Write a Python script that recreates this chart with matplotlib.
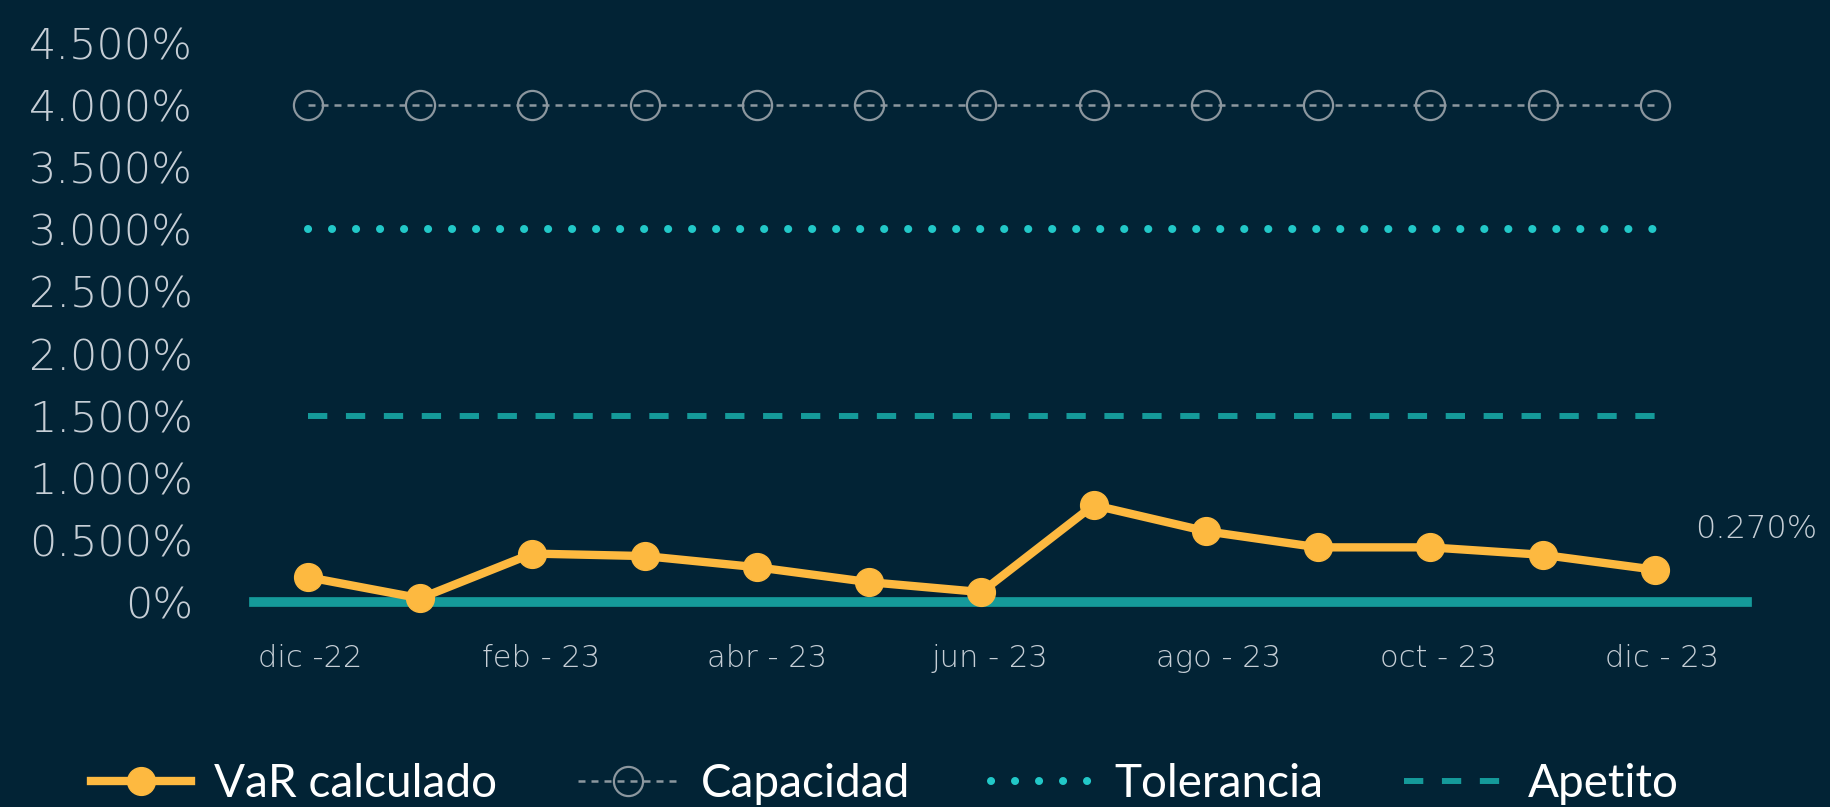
import numpy as np
import matplotlib
matplotlib.use('Agg')
from matplotlib import pyplot as plt
import matplotlib.transforms as mtransforms

# data
months = ['dic -22', 'ene - 23', 'feb - 23', 'mar - 23', 'abr - 23', 'may - 23', 'jun - 23',
          'jul - 23', 'ago - 23', 'sep - 23', 'oct - 23', 'nov - 23', 'dic - 23']
var_calc = [0.20, 0.03, 0.39, 0.37, 0.28, 0.16, 0.08, 0.78, 0.57, 0.44, 0.44, 0.38, 0.26]
capacidad = [4.0] * 13
tolerancia = [3.0] * 13
apetito = [1.5] * 13
y_ticks = [0, 0.5, 1.0, 1.5, 2.0, 2.5, 3.0, 3.5, 4.0, 4.5]
y_labels = ['0%', '0.500%', '1.000%', '1.500%', '2.000%', '2.500%', '3.000%', '3.500%', '4.000%', '4.500%']
last_label = '0.270%'

bg = '#022335'
orange = '#fdb940'
gray = '#8c979f'
cyan = '#22c8c8'
teal = '#159a9a'
label_col = '#c6ced6'
tick_font = {'family': 'DejaVu Sans', 'weight': 'light'}

fig = plt.figure(figsize=(18.3, 8.07), dpi=100, facecolor=bg)
ax = fig.add_axes([0.1388, 0.254, 0.8158, 0.715], facecolor=bg)

x = np.arange(len(months))

ax.axhline(0, color=teal, lw=7, zorder=1, clip_on=False)
ax.plot(x, apetito, color=teal, lw=4.3, dashes=(3.23, 3.12), label='Apetito', zorder=2)
ax.plot(x, tolerancia, color=cyan, lw=5.8, dashes=(0.01, 2.97), dash_capstyle='round',
        label='Tolerancia', zorder=2)
ax.plot(x, capacidad, color=gray, lw=1.8, dashes=(2.8, 2.4), marker='o', ms=21,
        mfc='none', mec=gray, mew=1.6, label='Capacidad', zorder=3)
ax.plot(x, var_calc, color=orange, lw=6, marker='o', ms=20, label='VaR calculado',
        zorder=4, clip_on=False)

ax.annotate(last_label, xy=(x[-1], var_calc[-1]), xytext=(73, 29),
            textcoords='offset points', ha='center', va='center',
            fontsize=23, color=label_col, **tick_font)

ax.set_xlim(-0.48, 12.82)
ax.set_ylim(0, 4.645)
ax.set_yticks(y_ticks)
ax.set_yticklabels(y_labels, fontsize=31, color=label_col, **tick_font)
ax.set_xticks(x[::2])
ax.set_xticklabels(months[::2], fontsize=22, color=label_col, **tick_font)
ax.tick_params(axis='y', length=0, pad=44)
ax.tick_params(axis='x', length=0, pad=30)
# labels sit left-aligned a little before each point
shift = mtransforms.ScaledTranslation(-36 / 72, 0, fig.dpi_scale_trans)
for lab in ax.get_xticklabels():
    lab.set_horizontalalignment('left')
    lab.set_transform(lab.get_transform() + shift)
for s in ax.spines.values():
    s.set_visible(False)

handles, labels = ax.get_legend_handles_labels()
order = [3, 2, 1, 0]
leg = fig.legend([handles[i] for i in order], [labels[i] for i in order],
                 loc='center left', bbox_to_anchor=(0.027, 0.028), ncol=4, frameon=False,
                 prop={'family': 'Lato', 'size': 33}, handlelength=2.2, handletextpad=0.5,
                 columnspacing=1.75, labelcolor='white')

fig.savefig('out.png', facecolor=bg)
